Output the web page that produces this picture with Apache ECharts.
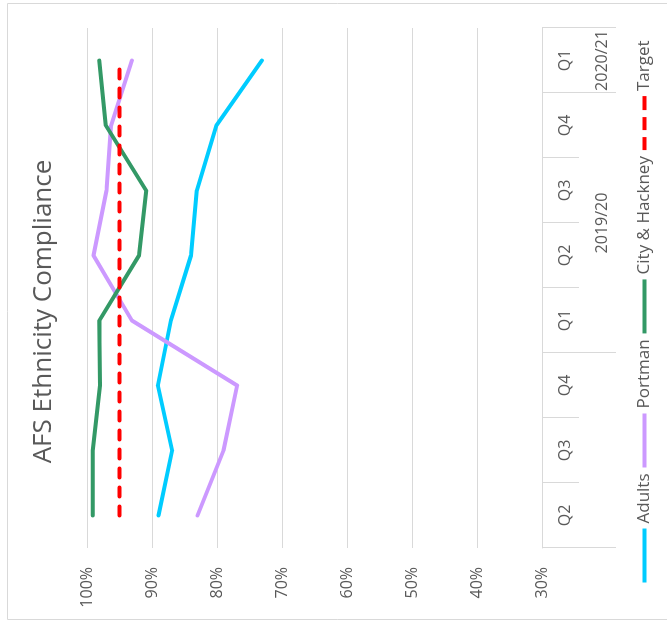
<!DOCTYPE html>
<html>
<head>
<meta charset="utf-8">
<script src="https://cdn.jsdelivr.net/npm/echarts@6/dist/echarts.min.js"></script>
<style>
  html, body { margin: 0; padding: 0; background: #fff; }
  #wrap { position: relative; width: 667px; height: 623px; overflow: hidden; }
  /* chart is laid out upright, then turned a quarter turn anticlockwise */
  #chart {
    position: absolute; left: 0; top: 0;
    width: 623px; height: 667px;
    transform-origin: 0 0;
    transform: translate(0px, 623px) rotate(-90deg);
  }
</style>
</head>
<body>
<div id="wrap"><div id="chart"></div></div>
<script>
// quarters along the category axis
const quarters = ['Q2', 'Q3', 'Q4', 'Q1', 'Q2', 'Q3', 'Q4', 'Q1'];
// financial-year groups and how many quarters each spans
const yearNames = ['', '2019/20', '2020/21'];
const yearSizes = [3, 4, 1];

// compliance rates, %
const adults   = [89.0, 86.9, 89.1, 87.1, 84.0, 83.1, 80.1, 73.1];
const portman  = [83.0, 79.0, 76.9, 93.1, 99.0, 97.0, 96.3, 93.1];
const cityHack = [99.1, 99.1, 98.0, 98.1, 92.0, 90.9, 97.1, 98.1];
const target   = [95, 95, 95, 95, 95, 95, 95, 95];

const valueTicks = [30, 40, 50, 60, 70, 80, 90, 100];

// group boundaries and label centres on a 0..n scale
const bounds = [0];
yearSizes.forEach(s => bounds.push(bounds[bounds.length - 1] + s));
const centres = yearSizes.map((s, i) => bounds[i] + s / 2);

const FONT = '"Open Sans", Lato, sans-serif';
const TXT = '#595959';
const GRID = '#d9d9d9';

// legend keys: a solid bar, and three dashes for the target line
const SOLID_KEY = 'path://M0,0H54V4H0Z';
const DASH_KEY = 'path://M0,0H13V4H0Z M20,0H33V4H20Z M40,0H54V4H40Z';

const chart = echarts.init(document.getElementById('chart'), null, { renderer: 'canvas' });

function lineSeries(name, data, color, extra) {
  return Object.assign({
    name, type: 'line', data,
    symbol: 'none', showSymbol: false,
    lineStyle: { color, width: 4, cap: 'round', join: 'round' },
    itemStyle: { color },
    emphasis: { disabled: true },
    animation: false
  }, extra || {});
}

chart.setOption({
  animation: false,
  title: {
    text: 'AFS Ethnicity Compliance',
    left: 'center', top: 26,
    textStyle: { fontFamily: FONT, fontSize: 26, fontWeight: 'normal', color: TXT }
  },
  legend: {
    bottom: 14, left: 'center', padding: 0,
    itemWidth: 54, itemHeight: 4, itemGap: 6, symbolKeepAspect: false,
    textStyle: { fontFamily: FONT, fontSize: 17, color: TXT },
    data: [
      { name: 'Adults', icon: SOLID_KEY },
      { name: 'Portman', icon: SOLID_KEY },
      { name: 'City & Hackney', icon: SOLID_KEY },
      { name: 'Target', icon: DASH_KEY }
    ]
  },
  grid: { left: 75, right: 28, top: 87, bottom: 125, containLabel: false },
  xAxis: [
    {
      type: 'category', data: quarters, boundaryGap: true,
      axisLine: { lineStyle: { color: GRID, width: 1 } },
      axisTick: { show: true, interval: 0, length: 37, lineStyle: { color: GRID } },
      axisLabel: { interval: 0, margin: 15, fontFamily: FONT, fontSize: 16, color: TXT },
      splitLine: { show: false }
    },
    {
      type: 'value', min: 0, max: bounds[bounds.length - 1], position: 'bottom',
      axisLine: { show: false },
      axisTick: { show: true, customValues: bounds, length: 74, lineStyle: { color: GRID } },
      axisLabel: {
        customValues: centres, margin: 52,
        fontFamily: FONT, fontSize: 16, color: TXT,
        formatter: v => yearNames[centres.indexOf(v)] || ''
      },
      splitLine: { show: false }
    }
  ],
  yAxis: {
    type: 'value', min: valueTicks[0], max: valueTicks[valueTicks.length - 1], interval: 10,
    axisLine: { show: false }, axisTick: { show: false },
    axisLabel: { margin: 19, formatter: '{value}%', fontFamily: FONT, fontSize: 16, color: TXT },
    splitLine: { lineStyle: { color: GRID, width: 1 } }
  },
  graphic: [{
    type: 'rect', silent: true,
    shape: { x: 3.5, y: 7.5, width: 616, height: 700 },
    style: { fill: 'none', stroke: GRID, lineWidth: 1 }
  }],
  series: [
    lineSeries('Adults', adults, '#00ccff'),
    lineSeries('Portman', portman, '#cc99ff'),
    lineSeries('City & Hackney', cityHack, '#339966'),
    lineSeries('Target', target, '#ff0000', {
      lineStyle: { color: '#ff0000', width: 4, type: [9, 10], cap: 'round' }
    })
  ]
});
</script>
</body>
</html>
